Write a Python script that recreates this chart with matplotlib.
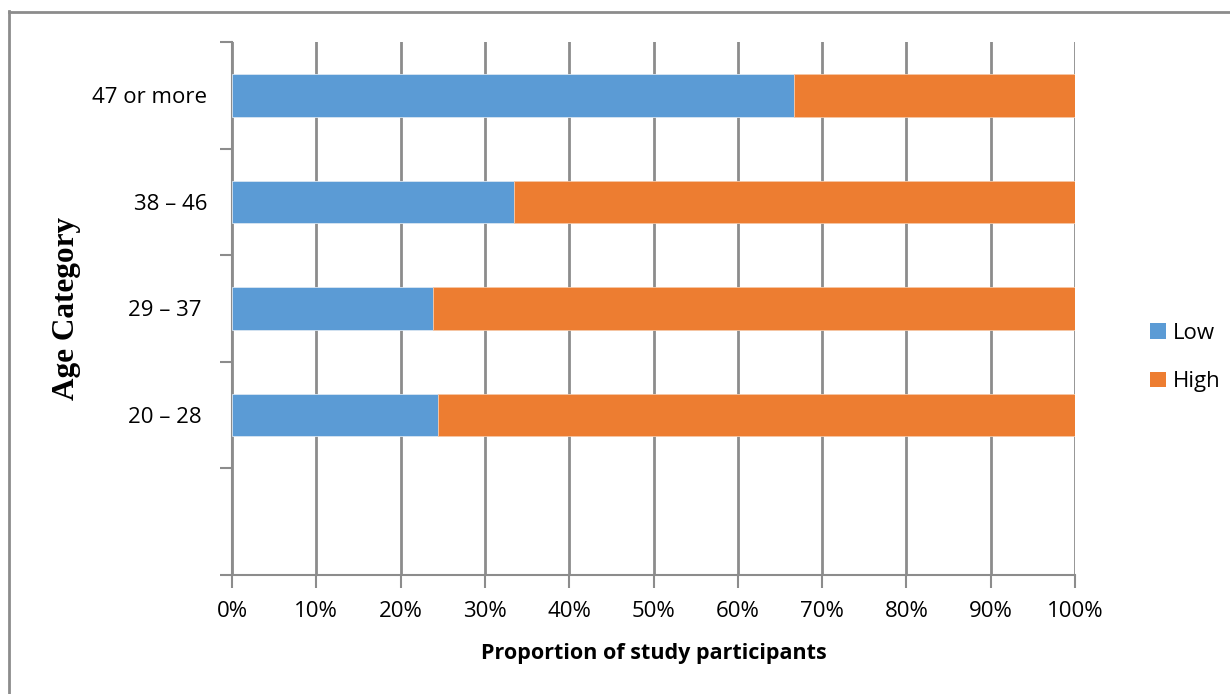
import matplotlib
matplotlib.use("Agg")
import matplotlib.pyplot as plt
from matplotlib.lines import Line2D
from matplotlib.patches import Patch
import numpy as np

categories = ["", "20 \u2013 28 ", "29 \u2013 37 ", "38 \u2013 46", "47 or more"]
low = [np.nan, 24.4, 23.9, 33.4, 66.7]
high = [np.nan, 75.6, 76.1, 66.6, 33.3]
xticks = [0, 10, 20, 30, 40, 50, 60, 70, 80, 90, 100]
xticklabels = [f"{v}%" for v in xticks]

BLUE = "#5B9BD5"
ORANGE = "#ED7D31"
GRAY = "#8C8C8C"
FS = 16

fig = plt.figure(figsize=(12.3, 6.94), dpi=100)
ax = fig.add_axes([232/1230, 1-575/694, (1075-232)/1230, (575-42)/694])

y = np.arange(len(categories))
ax.barh(y, low, height=0.4, color=BLUE, edgecolor="#d9e6f2", linewidth=0.6, label="Low", zorder=3)
ax.barh(y, high, left=low, height=0.4, color=ORANGE, edgecolor="#f5c7a6", linewidth=0.6, label="High", zorder=3)

ax.set_xlim(0, 100)
ax.set_ylim(-0.5, len(categories) - 0.5)
ax.set_xticks(xticks)
ax.set_xticklabels(xticklabels, fontsize=FS, family="Open Sans")
ax.set_yticks(y)
ax.set_yticklabels(categories, fontsize=FS, family="Open Sans")
ax.tick_params(axis="y", which="major", length=0, pad=18)
ax.set_yticks(np.arange(-0.5, len(categories)), minor=True)
ax.tick_params(axis="y", which="minor", length=9, width=1.5, color=GRAY, direction="out")
ax.tick_params(axis="x", length=9, width=1.5, color=GRAY, direction="out", pad=10)

ax.grid(axis="x", color=GRAY, linewidth=2, zorder=0)
for s in ["top", "right"]:
    ax.spines[s].set_visible(False)
for s in ["left", "bottom"]:
    ax.spines[s].set_color(GRAY)
    ax.spines[s].set_linewidth(1.5)
    ax.spines[s].set_zorder(1)

ax.set_xlabel("Proportion of study participants", fontsize=15.5, family="Open Sans",
              fontweight="bold", labelpad=15)
ax.set_ylabel("Age Category", fontsize=22.5, family="Liberation Serif",
              fontweight="bold", labelpad=8)

handles = [Patch(facecolor=BLUE, label="Low"), Patch(facecolor=ORANGE, label="High")]
leg = fig.legend(handles=handles, loc="center left", bbox_to_anchor=(1130/1230, 1-357.5/694),
                 frameon=False, prop={"family": "Open Sans", "size": FS},
                 handlelength=0.7, handleheight=0.7, handletextpad=0.35, labelspacing=1.25)

fig.add_artist(Line2D([8.5/1230, 8.5/1230], [0, 1-11/694], transform=fig.transFigure,
                      color=GRAY, linewidth=2))
fig.add_artist(Line2D([8.5/1230, 1], [1-11.5/694, 1-11.5/694], transform=fig.transFigure,
                      color=GRAY, linewidth=2))

fig.savefig("out.png", dpi=100)
